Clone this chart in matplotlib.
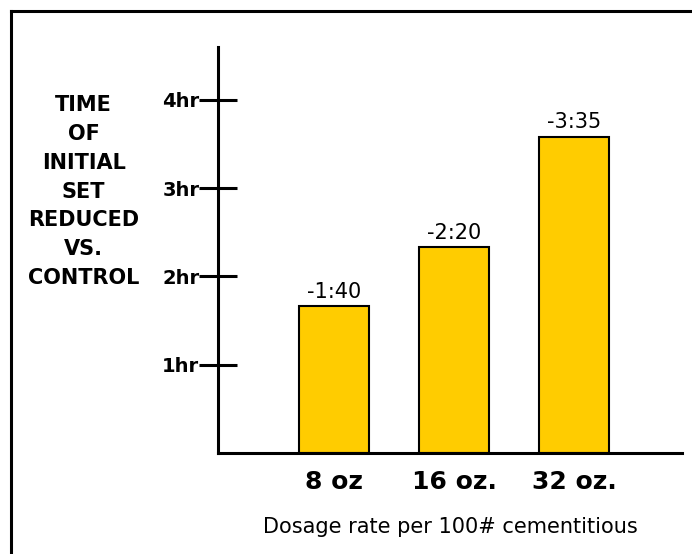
import matplotlib
matplotlib.use("Agg")
import matplotlib.pyplot as plt
from matplotlib.lines import Line2D

doses = ["8 oz", "16 oz.", "32 oz."]
reduction_hr = [100 / 60, 140 / 60, 215 / 60]   # -1:40, -2:20, -3:35
bar_labels = ["-1:40", "-2:20", "-3:35"]
hour_ticks = [1, 2, 3, 4]
hour_labels = ["1hr", "2hr", "3hr", "4hr"]

plt.rcParams['font.family'] = ['DejaVu Sans']

fig = plt.figure(figsize=(6.92, 5.54), dpi=100)
ax = fig.add_axes([0.315, 0.1823, 0.6705, 0.7333])

x = range(len(doses))
bars = ax.bar(x, reduction_hr, width=0.583, color='#FFCC00',
              edgecolor='black', linewidth=1.5, zorder=2)
for b, lab in zip(bars, bar_labels):
    ax.annotate(lab, (b.get_x() + b.get_width() / 2, b.get_height()),
                xytext=(0, 3), textcoords='offset points',
                ha='center', va='bottom', fontsize=15)

ax.set_xlim(-0.967, 2.9)
ax.set_ylim(0, 4.6)

ax.spines['top'].set_visible(False)
ax.spines['right'].set_visible(False)
ax.spines['left'].set_linewidth(2.2)
ax.spines['bottom'].set_linewidth(2.2)

ax.set_yticks(hour_ticks)
ax.set_yticklabels(hour_labels, fontsize=14, fontweight='bold')
ax.tick_params(axis='y', direction='inout', length=27, width=2.2, pad=0)

ax.set_xticks(list(x))
ax.set_xticklabels(doses, fontsize=18, fontweight='bold')
ax.tick_params(axis='x', length=0, pad=12)

ax.set_xlabel("Dosage rate per 100# cementitious", fontsize=15, labelpad=17)

fig.text(0.121, 0.654, "TIME\nOF\nINITIAL\nSET\nREDUCED\nVS.\nCONTROL",
         ha='center', va='center', fontsize=15, fontweight='bold',
         linespacing=1.55, multialignment='center')

# frame around the figure (top and left edges visible)
fig.add_artist(Line2D([0.016, 0.016], [0.0, 0.98], color='black', lw=2.2))
fig.add_artist(Line2D([0.016, 1.0], [0.98, 0.98], color='black', lw=2.2))

fig.savefig("out.png", dpi=100)
